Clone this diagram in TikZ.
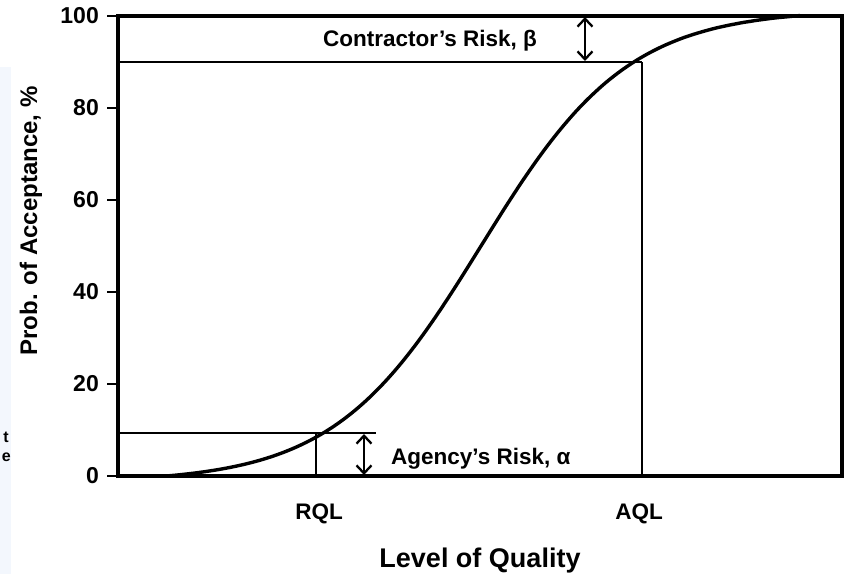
\documentclass[tikz,border=0pt]{standalone}
\usepackage{fontspec}
\setmainfont{Liberation Sans}
\usetikzlibrary{arrows.meta}
\definecolor{panel}{HTML}{F3F7FD}
\tikzset{
  frame/.style={line width=3.4pt},
  guide/.style={line width=2.3pt},
  curve/.style={line width=3.4pt, line join=round},
  tickmark/.style={line width=2.8pt},
  riskarrow/.style={line width=2.3pt, {Straight Barb[length=8pt,width=15pt,line width=2.3pt]}-{Straight Barb[length=8pt,width=15pt,line width=2.3pt]}},
  ticklabel/.style={font=\fontsize{23}{26}\selectfont\bfseries, anchor=east, inner sep=0pt},
  lbl/.style={font=\fontsize{22.5}{26}\selectfont\bfseries, inner sep=0pt},
  axlabel/.style={font=\fontsize{27}{32}\selectfont\bfseries, inner sep=0pt},
  edgeletter/.style={font=\fontsize{16}{18}\selectfont\bfseries, anchor=base east, inner sep=0pt},
}
\begin{document}
\begin{tikzpicture}[x=1pt,y=-1pt]
\useasboundingbox (0,0) rectangle (844,574);
% faint cropped panel at the left edge
\fill[panel] (0,67) rectangle (11,574);
\node[edgeletter] (pt) at (9,442) {t};
\node[edgeletter] (pe) at (11,461) {e};
% coordinates
\coordinate (o) at (118,476);
\coordinate (tl) at (118,16);
\coordinate (tr) at (842,16);
\coordinate (br) at (842,476);
\coordinate (b90l) at (118,62);
\coordinate (b90r) at (642,62);
\coordinate (aqlb) at (642,476);
\coordinate (a10l) at (118,433);
\coordinate (a10r) at (376,433);
\coordinate (rqlt) at (316,433);
\coordinate (rqlb) at (316,476);
\coordinate (betat) at (585,17);
\coordinate (betab) at (585,61);
\coordinate (alphat) at (364,434);
\coordinate (alphab) at (364,475);
% guides
\draw[guide] (b90l) -- (b90r);
\draw[guide] (b90r) -- (aqlb);
\draw[guide] (a10l) -- (a10r);
\draw[guide] (rqlt) -- (rqlb);
% curve (normalised logistic, 0 at x=165, 100 at x=800)
\draw[curve] plot[domain=165:800, samples=100, smooth]
  (\x, {476-460*((1/(1+exp(-1.702*(\x-481)/125))) - 0.0136)/(0.9862-0.0136)});
% frame
\draw[frame] (tl) -- (tr) -- (br) -- (o) -- cycle;
% ticks
\foreach \v/\yy in {0/476,20/384,40/292,60/200,80/108,100/16}{
  \draw[tickmark] (107,\yy) -- (118,\yy);
  \node[ticklabel] (t\v) at (99,\yy) {\v};
}
% risk arrows
\draw[riskarrow] (betat) -- (betab);
\draw[riskarrow] (alphat) -- (alphab);
% labels
\node[lbl, anchor=base west] (beta) at (323,46) {Contractor’s Risk, β};
\node[lbl, anchor=base west] (alpha) at (391,464) {Agency’s Risk, α};
\node[lbl, anchor=base] (rql) at (319,519) {RQL};
\node[lbl, anchor=base] (aql) at (639,519) {AQL};
\node[axlabel, anchor=base] (xl) at (480,567) {Level of Quality};
\node[font=\fontsize{24}{28}\selectfont\bfseries, inner sep=0pt, rotate=90] (yl) at (31,221) {Prob. of Acceptance, \%};
\end{tikzpicture}
\end{document}
